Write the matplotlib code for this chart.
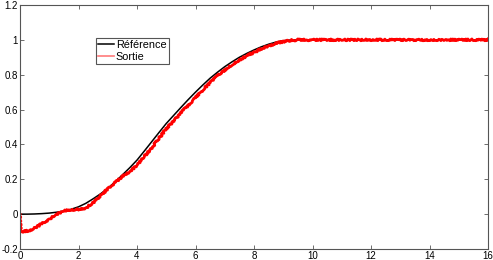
import numpy as np
import matplotlib.pyplot as plt

plt.rcParams['font.family'] = ['Liberation Sans', 'DejaVu Sans']

# Reference trajectory (black)
t_ref = [0, 0.25, 0.5, 0.75, 1, 1.25, 1.5, 1.75, 2, 2.25, 2.5, 2.75, 3, 3.25, 3.5, 3.75,
         4, 4.25, 4.5, 4.75, 5, 5.25, 5.5, 5.75, 6, 6.25, 6.5, 6.75, 7, 7.25, 7.5, 7.75,
         8, 8.25, 8.5, 8.75, 9, 9.25, 9.5, 16]
y_ref = [0, 0.0, 0.001, 0.003, 0.006, 0.011, 0.018, 0.028, 0.042, 0.062, 0.088, 0.116,
         0.148, 0.185, 0.225, 0.266, 0.31, 0.362, 0.415, 0.468, 0.52, 0.566, 0.612, 0.657,
         0.70, 0.741, 0.78, 0.814, 0.846, 0.874, 0.90, 0.922, 0.942, 0.96, 0.975, 0.987,
         0.995, 0.999, 1.0, 1.0]

# System output (red)
t_out = [0, 0.02, 0.3, 0.5, 0.75, 1, 1.25, 1.5, 1.75, 2, 2.25, 2.5, 2.75, 3, 3.25, 3.5,
         3.75, 4, 4.25, 4.5, 4.75, 5, 5.25, 5.5, 5.75, 6, 6.25, 6.5, 6.75, 7, 7.25, 7.5,
         7.75, 8, 8.25, 8.5, 8.75, 9, 9.25, 9.5, 16]
y_out = [0, -0.10, -0.095, -0.08, -0.055, -0.03, 0.0, 0.018, 0.025, 0.028, 0.035, 0.065,
         0.105, 0.145, 0.18, 0.215, 0.245, 0.28, 0.33, 0.38, 0.435, 0.49, 0.535, 0.58,
         0.625, 0.67, 0.713, 0.755, 0.793, 0.827, 0.857, 0.885, 0.908, 0.928, 0.948,
         0.965, 0.98, 0.99, 0.997, 1.0, 1.0]

fig = plt.figure(figsize=(4.93, 2.60), dpi=100)
ax = fig.add_axes([20 / 493, 11 / 260, 468 / 493, 244 / 260])

ax.plot(t_ref, y_ref, color='black', linewidth=1.1, label='Référence')
line, = ax.plot(t_out, y_out, color='red', linewidth=2.0, label='_nolegend_')
line.set_sketch_params(scale=0.9, length=1.5, randomness=3)
ax.plot([], [], color='#ff7a7a', linewidth=1.2, label='Sortie')

ax.set_xlim(0, 16)
ax.set_ylim(-0.2, 1.2)
ax.set_xticks(range(0, 17, 2))
ax.set_yticks([-0.2, 0, 0.2, 0.4, 0.6, 0.8, 1, 1.2])
ax.set_yticklabels(['-0.2', '0', '0.2', '0.4', '0.6', '0.8', '1', '1.2'])

ax.tick_params(direction='in', length=3, width=0.6, top=True, right=True,
               labelsize=7, pad=1.5, color='#555555')
for s in ax.spines.values():
    s.set_color('#555555')
    s.set_linewidth(0.8)

leg = ax.legend(loc='upper left', bbox_to_anchor=(0.162, 0.865), borderaxespad=0,
                fontsize=7.8, fancybox=False, framealpha=1, edgecolor='#555555',
                handlelength=1.5, handletextpad=0.15, borderpad=0.2, labelspacing=0.15)
leg.get_frame().set_linewidth(0.8)

fig.savefig('out.png', dpi=100)
